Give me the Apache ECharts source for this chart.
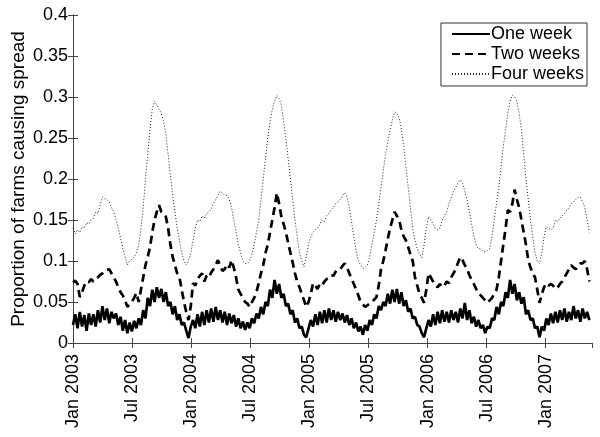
<!DOCTYPE html>
<html>
<head>
<meta charset="utf-8">
<script src="https://cdn.jsdelivr.net/npm/echarts@6/dist/echarts.min.js"></script>
<style>
  html, body { margin: 0; padding: 0; background: #fff; }
  #main { width: 600px; height: 437px; }
</style>
</head>
<body>
<div id="main"></div>
<script>
// weekly values from Jan 2003
var oneWeek = [
  0.022, 0.035, 0.018, 0.038, 0.020, 0.034, 0.015, 0.036, 0.022, 0.035,
  0.020, 0.040, 0.025, 0.045, 0.028, 0.042, 0.024, 0.038, 0.030, 0.036,
  0.022, 0.032, 0.015, 0.028, 0.012, 0.025, 0.014, 0.027, 0.018, 0.030,
  0.022, 0.040, 0.030, 0.055, 0.045, 0.065, 0.050, 0.068, 0.055, 0.066,
  0.050, 0.062, 0.045, 0.050, 0.035, 0.045, 0.028, 0.035, 0.022, 0.025,
  0.015, 0.006, 0.020, 0.028, 0.018, 0.035, 0.020, 0.038, 0.022, 0.040,
  0.025, 0.042, 0.026, 0.044, 0.028, 0.040, 0.025, 0.038, 0.022, 0.036,
  0.024, 0.034, 0.020, 0.030, 0.018, 0.026, 0.016, 0.025, 0.018, 0.030,
  0.024, 0.036, 0.030, 0.044, 0.035, 0.050, 0.045, 0.065, 0.055, 0.077,
  0.060, 0.072, 0.055, 0.060, 0.045, 0.048, 0.035, 0.040, 0.025, 0.030,
  0.018, 0.020, 0.010, 0.007, 0.018, 0.028, 0.020, 0.035, 0.022, 0.038,
  0.024, 0.040, 0.025, 0.042, 0.028, 0.040, 0.026, 0.038, 0.028, 0.036,
  0.025, 0.034, 0.022, 0.030, 0.018, 0.025, 0.014, 0.020, 0.010, 0.022,
  0.015, 0.028, 0.022, 0.035, 0.030, 0.045, 0.040, 0.050, 0.045, 0.060,
  0.048, 0.065, 0.050, 0.066, 0.048, 0.062, 0.045, 0.052, 0.038, 0.042,
  0.030, 0.032, 0.022, 0.020, 0.012, 0.007, 0.018, 0.028, 0.020, 0.035,
  0.022, 0.038, 0.024, 0.040, 0.026, 0.038, 0.025, 0.040, 0.028, 0.038,
  0.025, 0.042, 0.030, 0.049, 0.028, 0.040, 0.024, 0.032, 0.020, 0.028,
  0.018, 0.022, 0.012, 0.020, 0.018, 0.030, 0.028, 0.044, 0.035, 0.050,
  0.045, 0.062, 0.055, 0.077, 0.060, 0.072, 0.052, 0.062, 0.048, 0.056,
  0.035, 0.040, 0.028, 0.030, 0.018, 0.020, 0.007, 0.020, 0.015, 0.030,
  0.022, 0.036, 0.024, 0.038, 0.025, 0.040, 0.028, 0.042, 0.026, 0.038,
  0.028, 0.045, 0.030, 0.040, 0.026, 0.042, 0.030, 0.038, 0.028
];
var twoWeeks = [
  0.074, 0.076, 0.072, 0.056, 0.062, 0.070, 0.075, 0.074, 0.078, 0.075,
  0.078, 0.080, 0.083, 0.085, 0.088, 0.089, 0.090, 0.085, 0.080, 0.075,
  0.068, 0.062, 0.058, 0.052, 0.044, 0.048, 0.050, 0.055, 0.061, 0.050,
  0.065, 0.080, 0.095, 0.105, 0.117, 0.135, 0.150, 0.160, 0.168, 0.160,
  0.158, 0.154, 0.140, 0.120, 0.105, 0.095, 0.085, 0.080, 0.065, 0.050,
  0.038, 0.028, 0.045, 0.073, 0.070, 0.078, 0.082, 0.085, 0.075, 0.082,
  0.080, 0.086, 0.090, 0.095, 0.101, 0.094, 0.088, 0.090, 0.096, 0.092,
  0.101, 0.092, 0.080, 0.065, 0.060, 0.055, 0.050, 0.048, 0.044, 0.050,
  0.055, 0.062, 0.073, 0.085, 0.095, 0.110, 0.120, 0.135, 0.150, 0.165,
  0.183, 0.170, 0.154, 0.145, 0.135, 0.122, 0.110, 0.098, 0.085, 0.075,
  0.068, 0.060, 0.052, 0.044, 0.050, 0.060, 0.073, 0.070, 0.066, 0.072,
  0.070, 0.075, 0.078, 0.080, 0.083, 0.082, 0.087, 0.090, 0.090, 0.094,
  0.097, 0.092, 0.085, 0.078, 0.072, 0.065, 0.058, 0.050, 0.047, 0.044,
  0.046, 0.048, 0.050, 0.053, 0.056, 0.070, 0.090, 0.100, 0.113, 0.127,
  0.140, 0.150, 0.160, 0.155, 0.150, 0.138, 0.130, 0.125, 0.117, 0.108,
  0.100, 0.080, 0.070, 0.060, 0.055, 0.049, 0.065, 0.085, 0.080, 0.075,
  0.070, 0.068, 0.072, 0.068, 0.070, 0.075, 0.073, 0.080, 0.085, 0.090,
  0.098, 0.105, 0.101, 0.095, 0.090, 0.083, 0.077, 0.072, 0.066, 0.061,
  0.058, 0.055, 0.052, 0.049, 0.052, 0.055, 0.060, 0.065, 0.080, 0.100,
  0.120, 0.140, 0.162, 0.160, 0.170, 0.187, 0.175, 0.165, 0.150, 0.135,
  0.120, 0.101, 0.092, 0.085, 0.080, 0.065, 0.049, 0.060, 0.068, 0.073,
  0.070, 0.072, 0.070, 0.066, 0.068, 0.072, 0.075, 0.080, 0.085, 0.090,
  0.095, 0.092, 0.090, 0.094, 0.097, 0.097, 0.100, 0.090, 0.075
];
var fourWeeks = [
  0.140, 0.133, 0.138, 0.135, 0.142, 0.140, 0.147, 0.145, 0.150, 0.152,
  0.160, 0.158, 0.168, 0.178, 0.176, 0.175, 0.172, 0.165, 0.160, 0.150,
  0.140, 0.128, 0.115, 0.105, 0.095, 0.100, 0.102, 0.105, 0.110, 0.120,
  0.140, 0.165, 0.200, 0.230, 0.260, 0.285, 0.295, 0.290, 0.285, 0.280,
  0.270, 0.255, 0.230, 0.205, 0.180, 0.160, 0.140, 0.125, 0.110, 0.100,
  0.095, 0.100, 0.110, 0.125, 0.140, 0.150, 0.148, 0.155, 0.152, 0.158,
  0.160, 0.163, 0.170, 0.175, 0.180, 0.185, 0.183, 0.180, 0.180, 0.175,
  0.165, 0.150, 0.135, 0.120, 0.110, 0.100, 0.097, 0.097, 0.100, 0.108,
  0.120, 0.135, 0.150, 0.175, 0.200, 0.225, 0.250, 0.270, 0.285, 0.295,
  0.302, 0.298, 0.290, 0.270, 0.250, 0.225, 0.200, 0.175, 0.150, 0.130,
  0.110, 0.100, 0.093, 0.105, 0.120, 0.130, 0.135, 0.138, 0.140, 0.145,
  0.150, 0.148, 0.155, 0.158, 0.162, 0.165, 0.170, 0.172, 0.175, 0.180,
  0.183, 0.178, 0.165, 0.148, 0.130, 0.113, 0.100, 0.095, 0.091, 0.092,
  0.095, 0.105, 0.120, 0.135, 0.150, 0.170, 0.190, 0.210, 0.230, 0.245,
  0.260, 0.272, 0.282, 0.280, 0.275, 0.260, 0.240, 0.215, 0.190, 0.165,
  0.140, 0.125, 0.115, 0.108, 0.104, 0.120, 0.140, 0.154, 0.150, 0.145,
  0.140, 0.138, 0.140, 0.150, 0.155, 0.160, 0.170, 0.178, 0.185, 0.190,
  0.195, 0.199, 0.195, 0.185, 0.175, 0.160, 0.145, 0.130, 0.120, 0.115,
  0.115, 0.112, 0.111, 0.113, 0.115, 0.130, 0.150, 0.170, 0.190, 0.215,
  0.240, 0.260, 0.280, 0.295, 0.302, 0.300, 0.295, 0.280, 0.260, 0.230,
  0.200, 0.175, 0.150, 0.130, 0.110, 0.100, 0.097, 0.110, 0.130, 0.142,
  0.140, 0.138, 0.140, 0.150, 0.148, 0.152, 0.155, 0.158, 0.162, 0.165,
  0.170, 0.172, 0.175, 0.178, 0.178, 0.172, 0.165, 0.150, 0.135
];
var tickLabels = ['Jan 2003', 'Jul 2003', 'Jan 2004', 'Jul 2004', 'Jan 2005',
  'Jul 2005', 'Jan 2006', 'Jul 2006', 'Jan 2007'];

function toPairs(arr) {
  // week index -> months since Jan 2003
  return arr.map(function (v, i) { return [i * 12 / 52.18, v]; });
}

var dom = document.getElementById('main');
var myChart = echarts.init(dom);
var font = 'Liberation Sans, Arial, sans-serif';
var axisGrey = '#444';

var option = {
  animation: false,
  backgroundColor: '#fff',
  grid: { left: 73, right: 8, top: 15, bottom: 94, containLabel: false, outerBoundsMode: 'none' },
  legend: {
    orient: 'vertical',
    right: 13,
    top: 23,
    backgroundColor: '#fff',
    borderColor: '#333',
    borderWidth: 1,
    padding: [2, 3, 3, 10],
    itemGap: 2,
    itemWidth: 38,
    itemHeight: 20,
    itemStyle: { opacity: 0 },
    textStyle: { fontFamily: font, fontSize: 18, color: '#000', padding: [0, 0, 0, -4] },
    data: ['One week', 'Two weeks', 'Four weeks']
  },
  xAxis: [{
    type: 'value',
    min: 0,
    max: 52.7,
    interval: 6,
    splitLine: { show: false },
    axisLine: { lineStyle: { color: axisGrey } },
    axisTick: { inside: true, length: 5, lineStyle: { color: axisGrey } },
    axisLabel: {
      rotate: 90,
      fontFamily: font,
      fontSize: 18,
      color: '#000',
      margin: 11,
      showMaxLabel: false,
      formatter: function (v) {
        var k = Math.round(v / 6);
        return Math.abs(v - k * 6) < 0.01 ? (tickLabels[k] || '') : '';
      }
    }
  }, {
    type: 'value',
    position: 'top',
    min: 0,
    max: 52.7,
    interval: 6,
    splitLine: { show: false },
    axisLine: { lineStyle: { color: axisGrey } },
    axisTick: { inside: true, length: 5, lineStyle: { color: axisGrey } },
    axisLabel: { show: false }
  }],
  yAxis: [{
    type: 'value',
    min: 0,
    max: 0.4,
    interval: 0.05,
    splitLine: { show: false },
    axisLine: { show: true, lineStyle: { color: axisGrey } },
    axisTick: { show: true, inside: true, length: 5, lineStyle: { color: axisGrey } },
    axisLabel: { fontFamily: font, fontSize: 18, color: '#000', margin: 5 },
    name: 'Proportion of farms causing spread',
    nameLocation: 'middle',
    nameGap: 45,
    nameMoveOverlap: false,
    nameTextStyle: { fontFamily: font, fontSize: 19, color: '#000' }
  }, {
    type: 'value',
    position: 'right',
    min: 0,
    max: 0.4,
    interval: 0.05,
    splitLine: { show: false },
    axisLine: { show: true, lineStyle: { color: axisGrey } },
    axisTick: { show: true, inside: true, length: 5, lineStyle: { color: axisGrey } },
    axisLabel: { show: false }
  }],
  series: [{
    name: 'One week',
    type: 'line',
    symbol: 'none',
    data: toPairs(oneWeek),
    lineStyle: { color: '#000', width: 2.7 },
    itemStyle: { color: '#000' }
  }, {
    name: 'Two weeks',
    type: 'line',
    symbol: 'none',
    data: toPairs(twoWeeks),
    lineStyle: { color: '#000', width: 2.7, type: [8, 5] },
    itemStyle: { color: '#000' }
  }, {
    name: 'Four weeks',
    type: 'line',
    symbol: 'none',
    data: toPairs(fourWeeks),
    lineStyle: { color: '#222', width: 1, type: [1, 2] },
    itemStyle: { color: '#222' }
  }]
};

if (option && typeof option === 'object') {
  myChart.setOption(option, true);
}
window.addEventListener('resize', () => {
  myChart.resize();
});
</script>
</body>
</html>
